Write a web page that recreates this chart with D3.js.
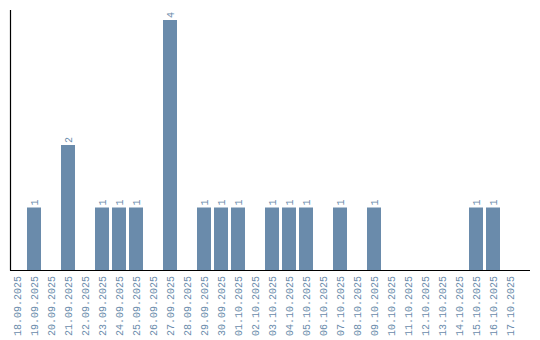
<!DOCTYPE html>
<html>
<head>
<meta charset="utf-8">
<script src="https://cdn.jsdelivr.net/npm/d3@7"></script>
<style>
  body { margin: 0; background: #fff; }
  svg { display: block; }
  text { font-family: "Liberation Mono", "DejaVu Sans Mono", monospace; fill: #6a8bab; }
</style>
</head>
<body>
<svg width="540" height="340"></svg>
<script>
// dates on the x axis
var dates = ["18.09.2025", "19.09.2025", "20.09.2025", "21.09.2025", "22.09.2025",
  "23.09.2025", "24.09.2025", "25.09.2025", "26.09.2025", "27.09.2025",
  "28.09.2025", "29.09.2025", "30.09.2025", "01.10.2025", "02.10.2025",
  "03.10.2025", "04.10.2025", "05.10.2025", "06.10.2025", "07.10.2025",
  "08.10.2025", "09.10.2025", "10.10.2025", "11.10.2025", "12.10.2025",
  "13.10.2025", "14.10.2025", "15.10.2025", "16.10.2025", "17.10.2025"];
var counts = [0, 1, 0, 2, 0, 1, 1, 1, 0, 4, 0, 1, 1, 1, 0, 1, 1, 1, 0, 1, 0, 1, 0, 0, 0, 0, 0, 1, 1, 0];

var svg = d3.select("svg");
var barColor = "#6a8bab";

var x = d3.scaleBand()
  .domain(dates)
  .range([10, 517])
  .paddingInner(3 / 17)
  .paddingOuter(0)
  .align(0);

var y = d3.scaleLinear().domain([0, 4]).range([270, 20]);

var data = dates.map(function (d, i) { return { date: d, value: counts[i] }; });

// bars
svg.append("g").selectAll("rect")
  .data(data.filter(function (d) { return d.value > 0; }))
  .enter().append("rect")
  .attr("x", function (d) { return x(d.date); })
  .attr("y", function (d) { return y(d.value); })
  .attr("width", x.bandwidth())
  .attr("height", function (d) { return y(0) - y(d.value); })
  .attr("fill", barColor);

// value labels
svg.append("g").selectAll("text")
  .data(data.filter(function (d) { return d.value > 0; }))
  .enter().append("text")
  .attr("transform", function (d) {
    return "translate(" + (x(d.date) + x.bandwidth() / 2) + "," + (y(d.value) - 2) + ") rotate(-90)";
  })
  .attr("dy", "0.35em")
  .style("font-size", "10px")
  .text(function (d) { return d.value; });

// x tick labels
svg.append("g").selectAll("text")
  .data(dates)
  .enter().append("text")
  .attr("transform", function (d) {
    return "translate(" + (x(d) + x.bandwidth() / 2) + ",276) rotate(-90)";
  })
  .attr("dy", "0.35em")
  .attr("text-anchor", "end")
  .style("font-size", "10px")
  .text(function (d) { return d; });

// axes lines
svg.append("line")
  .attr("x1", 10.5).attr("x2", 10.5)
  .attr("y1", 10).attr("y2", 270.5)
  .attr("stroke", "#000").attr("stroke-width", 1.2);
svg.append("line")
  .attr("x1", 10).attr("x2", 530)
  .attr("y1", 270.5).attr("y2", 270.5)
  .attr("stroke", "#000").attr("stroke-width", 1.2);
</script>
</body>
</html>
